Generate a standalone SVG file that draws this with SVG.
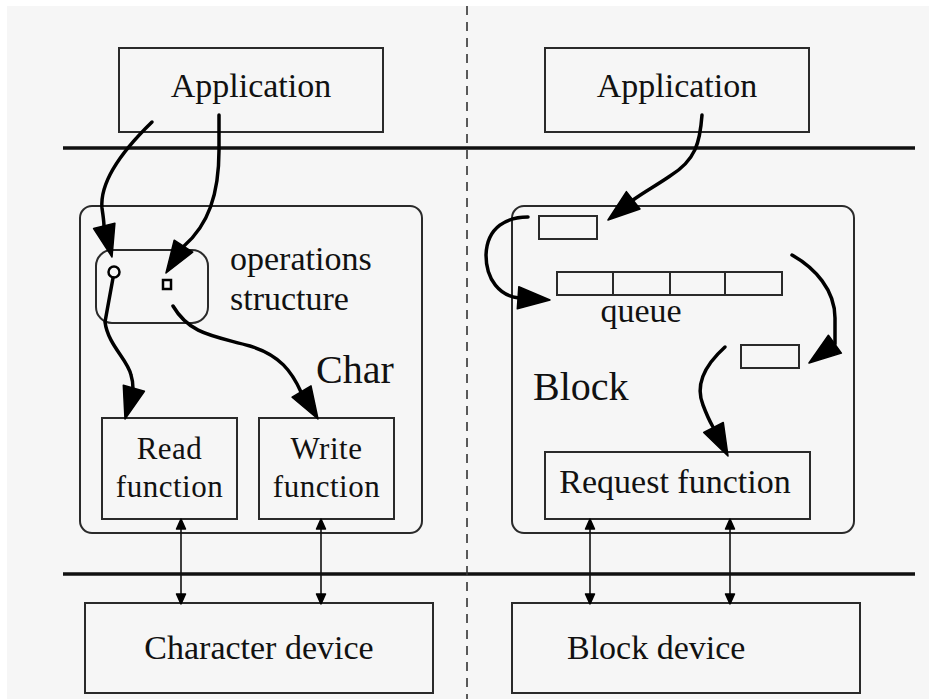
<svg xmlns="http://www.w3.org/2000/svg" width="929" height="699" viewBox="0 0 929 699">
  <style>
    .box { fill: none; stroke: #2a2a2a; stroke-width: 2; }
    .lbl { font-family: "Liberation Serif", "Times New Roman", serif; font-size: 34px; fill: #111; }
    .two { font-size: 31px; letter-spacing: 0.5px; }
    .big { font-size: 40px; }
    .bar { stroke: #111; stroke-width: 3.5; }
    .flow { fill: none; stroke: #000; stroke-width: 3.5; stroke-linecap: round; }
    .io { fill: none; stroke: #111; stroke-width: 1.6; }
    .head { fill: #000; stroke: #000; stroke-width: 1.5; stroke-linejoin: round; }
  </style>

  <!-- page -->
  <rect x="0" y="0" width="929" height="699" fill="#ffffff"/>
  <rect x="7" y="6" width="922" height="693" fill="#f6f6f6"/>

  <!-- layer boundaries -->
  <g id="layers">
    <line class="bar" x1="63" y1="148" x2="915" y2="148"/>
    <line class="bar" x1="63" y1="574" x2="915" y2="574"/>
    <line x1="467" y1="6" x2="467" y2="699" stroke="#333" stroke-width="1.6" stroke-dasharray="9,7"/>
  </g>

  <!-- character side -->
  <g id="app-char">
    <rect class="box" x="119" y="48" width="264" height="84"/>
    <text class="lbl" x="251" y="97" text-anchor="middle">Application</text>
  </g>
  <g id="char-driver">
    <rect class="box" x="80" y="206" width="342" height="327" rx="12"/>
    <text class="lbl big" x="316" y="383">Char</text>
  </g>
  <g id="ops-struct">
    <rect class="box" x="96" y="250" width="112" height="73" rx="16"/>
    <circle cx="114" cy="272" r="5.5" fill="#f6f6f6" stroke="#000" stroke-width="2.5"/>
    <rect x="163" y="280" width="8" height="9" fill="#f6f6f6" stroke="#000" stroke-width="2.5"/>
    <text class="lbl" x="230" y="270">operations</text>
    <text class="lbl" x="230" y="310">structure</text>
  </g>
  <g id="read-fn">
    <rect class="box" x="102" y="418" width="135" height="101"/>
    <text class="lbl two" x="169.5" y="459" text-anchor="middle">Read</text>
    <text class="lbl two" x="169.5" y="497" text-anchor="middle">function</text>
  </g>
  <g id="write-fn">
    <rect class="box" x="259" y="418" width="135" height="101"/>
    <text class="lbl two" x="326.5" y="459" text-anchor="middle">Write</text>
    <text class="lbl two" x="326.5" y="497" text-anchor="middle">function</text>
  </g>
  <g id="char-device">
    <rect class="box" x="85" y="603" width="348" height="90"/>
    <text class="lbl" x="259" y="659" text-anchor="middle">Character device</text>
  </g>

  <!-- block side -->
  <g id="app-block">
    <rect class="box" x="545" y="48" width="264" height="84"/>
    <text class="lbl" x="677" y="97" text-anchor="middle">Application</text>
  </g>
  <g id="block-driver">
    <rect class="box" x="512" y="206" width="342" height="327" rx="12"/>
    <text class="lbl big" x="533" y="400">Block</text>
  </g>
  <g id="req-in">
    <rect class="box" x="539" y="216" width="58" height="23"/>
  </g>
  <g id="queue">
    <rect class="box" x="557" y="272" width="225" height="23"/>
    <line class="box" x1="613" y1="272" x2="613" y2="295"/>
    <line class="box" x1="670" y1="272" x2="670" y2="295"/>
    <line class="box" x1="725" y1="272" x2="725" y2="295"/>
    <text class="lbl" x="641" y="322" text-anchor="middle">queue</text>
  </g>
  <g id="req-out">
    <rect class="box" x="741" y="345" width="58" height="23"/>
  </g>
  <g id="request-fn">
    <rect class="box" x="545" y="452" width="265" height="67"/>
    <text class="lbl" x="675" y="493" text-anchor="middle">Request function</text>
  </g>
  <g id="block-device">
    <rect class="box" x="512" y="603" width="348" height="90"/>
    <text class="lbl" x="567" y="659">Block device</text>
  </g>

  <!-- connectors -->
  <g id="connectors">
    <!-- application to operations structure -->
    <path class="flow" d="M152,122 C118,155 100,185 102,208 C103,216 104,221 104,227"/>
    <polygon class="head" points="112,257 93.6,228.6 114.9,223.3"/>
    <path class="flow" d="M219,115 L219,150 C219,195 208,225 184,246"/>
    <polygon class="head" points="166,273 174.2,240.2 192.7,252.2"/>

    <!-- operations structure to read / write -->
    <path class="flow" d="M113,278 L105,322 C108,345 128,360 131,375 C133,381 133,385 133,389"/>
    <polygon class="head" points="125,419 123.3,385.2 144.4,391.3"/>
    <path class="flow" d="M173,306 C190,335 215,336 250,346 C280,355 292,372 301,392"/>
    <polygon class="head" points="318,419 292.1,397.2 311.0,385.9"/>

    <!-- block request path -->
    <path class="flow" d="M702,115 C700,142 696,160 670,176 C657,185 644,192 633,200"/>
    <polygon class="head" points="608,220 626.4,191.6 640.0,209.0"/>
    <path class="flow" d="M528,217 C508,217 487,226 486,255 C486,280 500,296 519,298"/>
    <polygon class="head" points="550,300 517.3,308.7 518.8,286.8"/>
    <path class="flow" d="M792,255 C815,268 835,290 835,318 L835,344"/>
    <polygon class="head" points="809,363 828.4,335.3 841.4,353.1"/>
    <path class="flow" d="M725,347 C705,365 695,385 703,405 C706,413 709,420 713,427"/>
    <polygon class="head" points="728,456 703.7,432.5 723.3,422.5"/>

    <!-- driver to device -->
    <line class="io" x1="181" y1="525" x2="181" y2="598"/>
    <polygon class="head" points="181,519 176.5,529 185.5,529"/>
    <polygon class="head" points="181,604 176.5,594 185.5,594"/>
    <line class="io" x1="321" y1="525" x2="321" y2="598"/>
    <polygon class="head" points="321,519 316.5,529 325.5,529"/>
    <polygon class="head" points="321,604 316.5,594 325.5,594"/>
    <line class="io" x1="590" y1="525" x2="590" y2="598"/>
    <polygon class="head" points="590,519 585.5,529 594.5,529"/>
    <polygon class="head" points="590,604 585.5,594 594.5,594"/>
    <line class="io" x1="730" y1="525" x2="730" y2="598"/>
    <polygon class="head" points="730,519 725.5,529 734.5,529"/>
    <polygon class="head" points="730,604 725.5,594 734.5,594"/>
  </g>
</svg>
